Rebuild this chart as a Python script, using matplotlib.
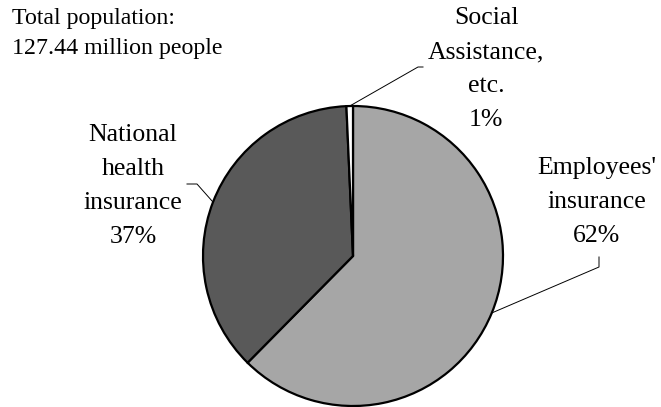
import numpy as np
import matplotlib.pyplot as plt

# Share of population by health insurance scheme (%)
categories = ["Employees'\ninsurance", "National\nhealth\ninsurance", "Social\nAssistance,\netc."]
shares = [62.4, 36.9, 0.7]
share_labels = ["62%", "37%", "1%"]
colors = ["#A6A6A6", "#595959", "#FFFFFF"]
note = "Total population:\n127.44 million people"

plt.rcParams['font.family'] = ['Liberation Serif', 'DejaVu Serif']

fig = plt.figure(figsize=(6.61, 4.07), dpi=100)
ax = fig.add_axes([0, 0, 1, 1])

# work in pixel-like units so the layout is easy to place
cx, cy, r = 353, 151, 150
wedges, _ = ax.pie(shares, colors=colors, startangle=90, counterclock=False,
                   center=(cx, cy), radius=r, frame=True,
                   wedgeprops=dict(edgecolor='black', linewidth=1.6))
ax.set_xlim(0, 661)
ax.set_ylim(0, 407)
ax.set_aspect('equal')
ax.axis('off')

# label centres and leader line bends (x, y)
label_pos = [(597, 205), (133, 221), (486, 338)]
leader_pts = [[(599, 140), (599, 150)],
              [(197, 223), (187, 223)],
              [(418, 340), (423, 340)]]

for w, cat, lab, pos, pts in zip(wedges, categories, share_labels, label_pos, leader_pts):
    mid = np.deg2rad((w.theta1 + w.theta2) / 2)
    ex, ey = cx + r * np.cos(mid), cy + r * np.sin(mid)
    xs = [ex] + [p[0] for p in pts]
    ys = [ey] + [p[1] for p in pts]
    ax.plot(xs, ys, color='black', linewidth=0.7, zorder=0.5)
    ax.text(pos[0], pos[1], cat + "\n" + lab, ha='center', va='center',
            fontsize=18.5, linespacing=1.7)

ax.text(12, 399, note, ha='left', va='top', fontsize=17.2, linespacing=1.55)

fig.savefig('out.png', dpi=100)
